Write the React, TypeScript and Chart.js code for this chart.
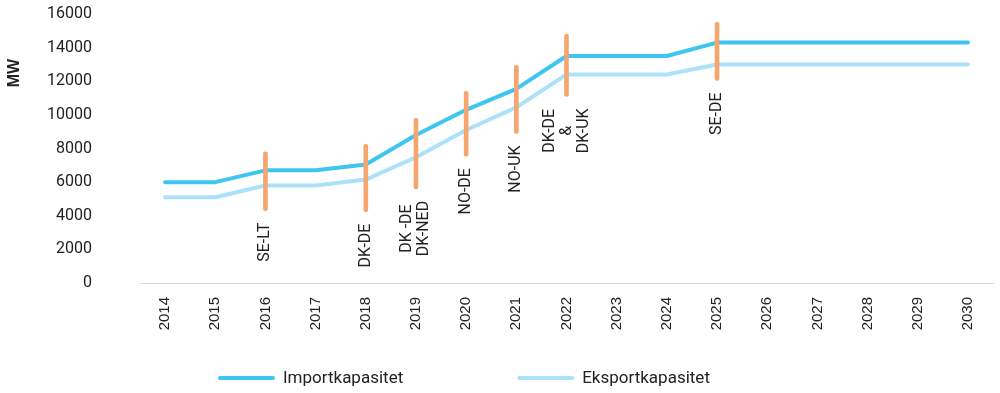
import { useEffect, useRef } from 'react';
import { Chart, registerables } from 'chart.js';

Chart.register(...registerables);

const years = ['2014', '2015', '2016', '2017', '2018', '2019', '2020', '2021', '2022', '2023', '2024', '2025', '2026', '2027', '2028', '2029', '2030'];
const importCap = [6000, 6000, 6700, 6700, 7050, 8800, 10300, 11550, 13500, 13500, 13500, 14300, 14300, 14300, 14300, 14300, 14300];
const exportCap = [5100, 5100, 5800, 5800, 6150, 7480, 9100, 10450, 12400, 12400, 12400, 13000, 13000, 13000, 13000, 13000, 13000];

const markerYears = ['2016', '2018', '2019', '2020', '2021', '2022', '2025'];
const markerLow = [4300, 4250, 5600, 7550, 8900, 11100, 12050];
const markerHigh = [7800, 8250, 9800, 11400, 12950, 14800, 15500];
const markerLabels = [['SE-LT'], ['DK-DE'], ['DK -DE', 'DK-NED'], ['NO-DE'], ['NO-UK'], ['DK-DE', '&', 'DK-UK'], ['SE-DE']];

const seriesNames = ['Importkapasitet', 'Eksportkapasitet'];
const yTicks = { min: 0, max: 16000, step: 2000 };
const yTitle = 'MW';

const IMPORT_COLOR = '#3ec6f1';
const EXPORT_COLOR = '#ade1f9';
const MARKER_COLOR = '#f6a56e';
const TEXT_COLOR = '#222222';

export default function App() {
  const ref = useRef<HTMLCanvasElement>(null);

  useEffect(() => {
    const canvas = ref.current;
    if (!canvas) return;

    const markerData = years.map((y) => {
      const i = markerYears.indexOf(y);
      return i >= 0 ? [markerLow[i], markerHigh[i]] : null;
    });

    const markerLabelPlugin = {
      id: 'markerLabels',
      afterDatasetsDraw(chart: any) {
        const ctx = chart.ctx;
        const meta = chart.getDatasetMeta(2);
        const ys = chart.scales.y;
        ctx.save();
        ctx.font = '16px Roboto';
        ctx.fillStyle = TEXT_COLOR;
        ctx.textAlign = 'center';
        ctx.textBaseline = 'middle';
        markerYears.forEach((yr, i) => {
          const idx = years.indexOf(yr);
          const el = meta.data[idx];
          if (!el) return;
          const x = el.x;
          const yb = ys.getPixelForValue(markerLow[i]) + 12;
          const lines = markerLabels[i];
          const L = Math.max(...lines.map((l) => ctx.measureText(l).width));
          ctx.save();
          ctx.translate(x, yb);
          ctx.rotate(-Math.PI / 2);
          lines.forEach((l, j) => {
            ctx.fillText(l, -L / 2, (j - (lines.length - 1) / 2) * 17);
          });
          ctx.restore();
        });
        ctx.restore();
      },
    };

    const legendAndTitlePlugin = {
      id: 'customLegend',
      afterDraw(chart: any) {
        const ctx = chart.ctx;
        ctx.save();
        ctx.font = '17px Roboto';
        ctx.textBaseline = 'middle';
        ctx.textAlign = 'left';
        let x = 218;
        const y = 378;
        [0, 1].forEach((di) => {
          const ds = chart.data.datasets[di];
          ctx.strokeStyle = ds.borderColor;
          ctx.lineWidth = 4;
          ctx.lineCap = 'round';
          ctx.beginPath();
          ctx.moveTo(x + 2, y);
          ctx.lineTo(x + 55, y);
          ctx.stroke();
          ctx.fillStyle = TEXT_COLOR;
          ctx.fillText(ds.label, x + 65, y + 1);
          x += 65 + ctx.measureText(ds.label).width + 114;
        });
        ctx.font = 'bold 16px "Liberation Sans"';
        ctx.textAlign = 'center';
        ctx.textBaseline = 'middle';
        ctx.fillStyle = TEXT_COLOR;
        ctx.translate(15, 73);
        ctx.rotate(-Math.PI / 2);
        ctx.fillText(yTitle, 0, 0);
        ctx.restore();
      },
    };

    const chart = new Chart(canvas, {
      type: 'line',
      data: {
        labels: years,
        datasets: [
          {
            type: 'line',
            label: seriesNames[0],
            data: importCap,
            borderColor: IMPORT_COLOR,
            backgroundColor: IMPORT_COLOR,
            borderWidth: 4,
            pointRadius: 0,
            tension: 0,
            borderCapStyle: 'round',
            borderJoinStyle: 'round',
            order: 2,
          },
          {
            type: 'line',
            label: seriesNames[1],
            data: exportCap,
            borderColor: EXPORT_COLOR,
            backgroundColor: EXPORT_COLOR,
            borderWidth: 4,
            pointRadius: 0,
            tension: 0,
            borderCapStyle: 'round',
            borderJoinStyle: 'round',
            order: 3,
          },
          {
            type: 'bar',
            label: 'markers',
            data: markerData as any,
            backgroundColor: MARKER_COLOR,
            borderWidth: 0,
            borderRadius: 2,
            borderSkipped: false,
            barThickness: 4,
            order: 1,
          },
        ],
      },
      options: {
        responsive: false,
        animation: false,
        events: [],
        layout: { padding: { top: 14, right: 3, left: 0, bottom: 0 } },
        plugins: {
          legend: { display: false },
          tooltip: { enabled: false },
        },
        scales: {
          x: {
            offset: true,
            grid: { display: false, drawTicks: false },
            border: { display: true, color: '#d9d9d9', width: 1 },
            ticks: {
              autoSkip: false,
              minRotation: 90,
              maxRotation: 90,
              padding: 14,
              color: TEXT_COLOR,
              font: { family: '"Liberation Sans"', size: 15 },
            },
            afterFit(scale: any) {
              scale.height = 110;
            },
          },
          y: {
            min: yTicks.min,
            max: yTicks.max,
            grid: { display: false, drawTicks: false },
            border: { display: false },
            ticks: {
              stepSize: yTicks.step,
              padding: 48,
              color: TEXT_COLOR,
              font: { family: 'Roboto', size: 16 },
              callback: (v: any) => String(v),
            },
            afterFit(scale: any) {
              scale.width = 140;
              scale.paddingTop = 0;
              scale.paddingBottom = 0;
            },
          },
        },
      },
      plugins: [markerLabelPlugin, legendAndTitlePlugin],
    } as any);

    return () => chart.destroy();
  }, []);

  return (
    <div style={{ position: 'absolute', left: 0, top: 0, width: 1000, height: 393, background: '#fff' }}>
      <canvas ref={ref} width={1000} height={393} style={{ display: 'block' }} />
    </div>
  );
}
